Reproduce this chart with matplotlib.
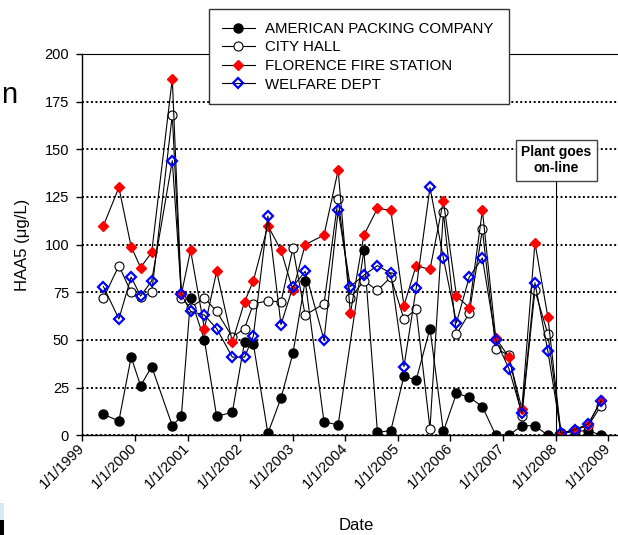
import numpy as np
import pandas as pd
import matplotlib
matplotlib.use("Agg")
import matplotlib.pyplot as plt
from matplotlib.patches import Rectangle

plt.rcParams['font.family'] = ['Liberation Sans', 'DejaVu Sans']

# sampling dates shared by all four sites
dates = pd.to_datetime([
    "1999-05-28", "1999-09-12", "1999-12-06", "2000-02-10", "2000-04-27",
    "2000-09-17", "2000-11-19", "2001-01-22", "2001-04-28", "2001-07-22",
    "2001-11-08", "2002-02-01", "2002-04-03", "2002-07-13", "2002-10-12",
    "2003-01-03", "2003-03-29", "2003-08-07", "2003-11-13", "2004-02-06",
    "2004-05-10", "2004-08-12", "2004-11-13", "2005-02-12", "2005-05-08",
    "2005-08-12", "2005-11-13", "2006-02-12", "2006-05-12", "2006-08-11",
    "2006-11-12", "2007-02-11", "2007-05-12", "2007-08-11", "2007-11-09",
    "2008-02-08", "2008-05-15", "2008-08-16", "2008-11-12",
])

american = [11, 7.5, 41, 26, 36, 5, 10, 72, 50, 10,
            12, 49, 48, 1, 19.5, 43, 81, 7, 5.5, np.nan,
            97, 1.5, 2.5, 31, 29, 56, 2, 22, 20, 15,
            0, 0, 5, 5, 0, 1, 2, 2.5, 0]
city_hall = [72, 89, 75, 72.5, 75, 168, 72, 67, 72, 65,
             51.5, 56, 69, 70.5, 70, 98, 63, 69, 124, 72,
             81, 76, 83, 61, 66, 3.5, 117, 53, 64, 108,
             45.5, 42, 10, 76, 53, 1, 3, 5, 15.5]
fire_station = [110, 130, 99, 88, 96, 187, 74, 97, 56, 86,
                49, 70, 81, 110, 97, 76, 100, 105, 139, 64,
                105, 119, 118, 68, 89, 87, 123, 73, 67, 118,
                51, 41, 14, 101, 62, 1, 3, 5.5, 18.5]
welfare = [78, 61, 83, 73, 81, 144, 74, 65, 63, 56,
           41, 41, 52, 115, 58, 78, 86, 50, 118, 78,
           84, 89, 85, 36, 77, 130, 93, 59, 83, 93,
           50, 35, 11.5, 80, 44, 1, 3, 6, 18]

tick_years = list(range(1999, 2010))
tick_labels = ["1/1/%d" % y for y in tick_years]
y_ticks = [0, 25, 50, 75, 100, 125, 150, 175, 200]
online_date = pd.Timestamp("2008-01-08")


def plot_site(ax, values, label, marker, ms, fc, ec, mew):
    vals = np.array(values, dtype=float)
    ok = ~np.isnan(vals)
    ax.plot(dates[ok], vals[ok], color='black', lw=0.8, marker=marker,
            ms=ms, mfc=fc, mec=ec, mew=mew, label=label)


fig = plt.figure(figsize=(6.18, 5.35), dpi=100)
ax = fig.add_axes([0.1332, 0.1864, 0.8668, 0.7127])

plot_site(ax, american, 'AMERICAN PACKING COMPANY', 'o', 6.5, 'black', 'black', 1.0)
plot_site(ax, city_hall, 'CITY HALL', 'o', 6.5, 'white', 'black', 0.8)
plot_site(ax, fire_station, 'FLORENCE FIRE STATION', 'D', 5.2, '#ff0000', '#ff0000', 1.0)
plot_site(ax, welfare, 'WELFARE DEPT', 'D', 5.0, 'none', '#0000ff', 1.6)

ax.set_xlim(pd.Timestamp("1999-01-01"), pd.Timestamp("2009-03-10"))
ax.set_ylim(0, 200)
ax.set_xticks([pd.Timestamp("%d-01-01" % y) for y in tick_years])
ax.set_xticklabels(tick_labels)
ax.set_yticks(y_ticks)

ax.yaxis.grid(True, linestyle=(0, (1, 1.3)), color='black', lw=1.4)
ax.set_axisbelow(True)

ax.spines['right'].set_visible(False)
ax.spines['top'].set_linewidth(0.8)
ax.spines['left'].set_linewidth(1.0)
ax.spines['bottom'].set_linewidth(1.0)

ax.tick_params(direction='out', length=4, width=1, labelsize=10.5)
ax.tick_params(axis='y', pad=5.5)
for lab in ax.get_xticklabels():
    lab.set_rotation(45)
    lab.set_ha('right')
    lab.set_va('center')
    lab.set_rotation_mode('anchor')

ax.set_ylabel('HAA5 (\u03bcg/L)', fontsize=12)
ax.yaxis.set_label_coords(-0.098, 0.5)
ax.set_xlabel('Date', fontsize=12)
ax.xaxis.set_label_coords(0.5106, -0.218)

ax.annotate("Plant goes\non-line", xy=(online_date, 0), xytext=(online_date, 144.3),
            ha='center', va='center', fontsize=10, fontweight='bold',
            bbox=dict(boxstyle='square,pad=0.4', fc='white', ec='#444444', lw=1),
            arrowprops=dict(arrowstyle='-', color='black', lw=0.8,
                            shrinkA=0, shrinkB=0))

leg = ax.legend(loc='upper left', bbox_to_anchor=(209 / 618, 0.804, 300 / 618, 1 - 9 / 535 - 0.804),
                bbox_transform=fig.transFigure, mode='expand', borderaxespad=0,
                fontsize=10.8, labelspacing=0.31, handlelength=2.2,
                handletextpad=0.67, borderpad=0.85, fancybox=False, framealpha=1)
leg.get_frame().set_edgecolor('#333333')
leg.get_frame().set_linewidth(1.0)

# slide leftovers at the left edge
fig.text(0.002, 1 - 103 / 535, "n", fontsize=21, va='baseline', ha='left')
fig.patches.append(Rectangle((0, 15 / 535), 4 / 618, 17 / 535, transform=fig.transFigure,
                             fc='#d6e9f0', ec='none', figure=fig))
fig.patches.append(Rectangle((0, 0), 4 / 618, 15 / 535, transform=fig.transFigure,
                             fc='black', ec='none', figure=fig))

fig.savefig("out.png", dpi=100)
